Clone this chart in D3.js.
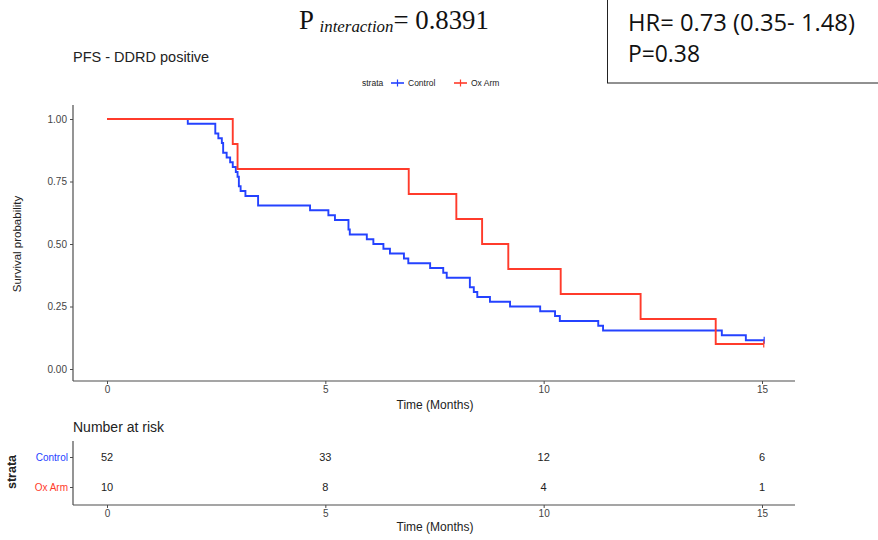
<!DOCTYPE html>
<html>
<head>
<meta charset="utf-8">
<script src="https://cdn.jsdelivr.net/npm/d3@7"></script>
<style>
  html, body { margin: 0; padding: 0; background: #fff; }
  svg { display: block; }
</style>
</head>
<body>
<svg id="chart" width="878" height="540"></svg>
<script>
// Kaplan-Meier steps: time of each drop (months) and survival after it
const controlTimes = [1.85, 2.48, 2.55, 2.63, 2.66, 2.74, 2.82, 2.88, 2.95, 2.99, 3.02, 3.06, 3.17, 3.46,
  4.65, 5.07, 5.22, 5.53, 5.56, 5.95, 6.10, 6.33, 6.48, 6.80, 6.90, 7.40, 7.70, 7.78,
  8.31, 8.40, 8.48, 8.77, 9.23, 9.92, 10.26, 10.37, 11.25, 11.36, 14.08, 14.63];
const controlSurv = [0.981, 0.942, 0.923, 0.904, 0.865, 0.846, 0.827, 0.808, 0.788, 0.769, 0.731, 0.712, 0.692, 0.654,
  0.635, 0.615, 0.596, 0.558, 0.538, 0.519, 0.500, 0.481, 0.462, 0.442, 0.423, 0.404, 0.385, 0.365,
  0.327, 0.308, 0.288, 0.269, 0.250, 0.231, 0.212, 0.192, 0.173, 0.154, 0.135, 0.115];
const controlEnd = 15.05;

const oxTimes = [2.88, 2.99, 6.91, 8.00, 8.59, 9.19, 10.39, 12.22, 13.94];
const oxSurv = [0.9, 0.8, 0.7, 0.6, 0.5, 0.4, 0.3, 0.2, 0.1];
const oxEnd = 15.04;

const strata = ["Control", "Ox Arm"];
const riskTimes = [0, 5, 10, 15];
const riskControl = [52, 33, 12, 6];
const riskOx = [10, 8, 4, 1];
const xTicks = [0, 5, 10, 15];
const yTicks = [0, 0.25, 0.5, 0.75, 1];

const colors = { "Control": "#2442ff", "Ox Arm": "#ff3b2b" };
const axisColor = "#4d4d4d";
const sans = "'Liberation Sans', Arial, sans-serif";

const svg = d3.select("#chart");

// Shared time scale for the curve panel and the risk table
const x = d3.scaleLinear().domain([0, 15]).range([107, 762]);
const y = d3.scaleLinear().domain([0, 1]).range([369, 119]);
const panel = { left: 73, right: 795, top: 105, bottom: 381 };

// Squeeze/stretch a text node horizontally so it spans a given width from its left edge
function fitWidth(sel, left, width) {
  const bb = sel.node().getBBox();
  const k = width / bb.width;
  sel.attr("transform", `translate(${left},0) scale(${k},1) translate(${-bb.x},0)`);
}

// ---- Header annotations ----
const pText = svg.append("text")
  .attr("x", 0).attr("y", 29)
  .attr("font-family", "'Liberation Serif', 'Times New Roman', serif")
  .attr("font-size", 27).attr("fill", "#111");
pText.append("tspan").text("P ");
pText.append("tspan").attr("font-style", "italic").attr("font-size", 17).attr("dy", 3).text("interaction");
pText.append("tspan").attr("dy", -3).text("= 0.8391");
fitWidth(pText, 299, 190);

svg.append("rect")
  .attr("x", 607.5).attr("y", -5).attr("width", 300).attr("height", 88)
  .attr("fill", "none").attr("stroke", "#222").attr("stroke-width", 1);
const hr = svg.append("text").attr("x", 0).attr("y", 31)
  .attr("font-family", "'Open Sans', sans-serif").attr("font-size", 23)
  .attr("fill", "#111").text("HR= 0.73 (0.35- 1.48)");
fitWidth(hr, 628, 227);
const pv = svg.append("text").attr("x", 0).attr("y", 62)
  .attr("font-family", "'Open Sans', sans-serif").attr("font-size", 23)
  .attr("fill", "#111").text("P=0.38");
fitWidth(pv, 628, 72);

svg.append("text").attr("x", 73).attr("y", 62)
  .attr("font-family", sans).attr("font-size", 14.5).attr("fill", "#222")
  .text("PFS - DDRD positive");

// ---- Legend ----
const legend = svg.append("g").attr("font-family", sans).attr("font-size", 8.5).attr("fill", "#222");
legend.append("text").attr("x", 362).attr("y", 86).text("strata");
const legendItems = [{ name: "Control", x: 391 }, { name: "Ox Arm", x: 454 }];
legendItems.forEach(d => {
  const g = legend.append("g").attr("transform", `translate(${d.x},83)`);
  g.append("line").attr("x1", 0).attr("x2", 13).attr("stroke", colors[d.name]).attr("stroke-width", 1.6);
  g.append("line").attr("x1", 6.5).attr("x2", 6.5).attr("y1", -3.5).attr("y2", 3.5).attr("stroke", colors[d.name]).attr("stroke-width", 1.2);
  g.append("text").attr("x", 17).attr("y", 3).text(d.name);
});

// ---- Survival panel axes ----
const yAxis = svg.append("g").attr("transform", `translate(${panel.left},0)`)
  .call(d3.axisLeft(y).tickValues(yTicks).tickFormat(d3.format(".2f")).tickSize(3).tickPadding(3));
yAxis.select(".domain").remove();
svg.append("line").attr("x1", panel.left).attr("x2", panel.left)
  .attr("y1", panel.top).attr("y2", panel.bottom).attr("stroke", axisColor).attr("stroke-width", 1.2);

const xAxis = svg.append("g").attr("transform", `translate(0,${panel.bottom})`)
  .call(d3.axisBottom(x).tickValues(xTicks).tickSize(3).tickPadding(2));
xAxis.select(".domain").remove();
svg.append("line").attr("x1", panel.left).attr("x2", panel.right)
  .attr("y1", panel.bottom).attr("y2", panel.bottom).attr("stroke", axisColor).attr("stroke-width", 1.2);

[yAxis, xAxis].forEach(a => {
  a.selectAll("text").attr("font-family", sans).attr("font-size", 10).attr("fill", "#444");
  a.selectAll(".tick line").attr("stroke", axisColor);
});

svg.append("text")
  .attr("transform", `translate(21,${y(0.5)}) rotate(-90)`)
  .attr("text-anchor", "middle").attr("font-family", sans).attr("font-size", 11.5).attr("fill", "#222")
  .text("Survival probability");
svg.append("text").attr("x", 435).attr("y", 409).attr("text-anchor", "middle")
  .attr("font-family", sans).attr("font-size", 12).attr("fill", "#222").text("Time (Months)");

// ---- Curves (Control underneath, Ox Arm on top) ----
function stepPoints(times, surv, end) {
  const pts = [[0, 1]];
  times.forEach((t, i) => pts.push([t, surv[i]]));
  pts.push([end, surv[surv.length - 1]]);
  return pts;
}
const line = d3.line().x(d => x(d[0])).y(d => y(d[1])).curve(d3.curveStepAfter);

const series = [
  { name: "Control", pts: stepPoints(controlTimes, controlSurv, controlEnd) },
  { name: "Ox Arm", pts: stepPoints(oxTimes, oxSurv, oxEnd) }
];
series.forEach(s => {
  svg.append("path").datum(s.pts).attr("d", line)
    .attr("fill", "none").attr("stroke", colors[s.name]).attr("stroke-width", 1.9)
    .attr("stroke-linejoin", "miter");
  const last = s.pts[s.pts.length - 1];
  svg.append("line").attr("x1", x(last[0])).attr("x2", x(last[0]))
    .attr("y1", y(last[1]) - 3.5).attr("y2", y(last[1]) + 3.5)
    .attr("stroke", colors[s.name]).attr("stroke-width", 1.2);
});

// ---- Number at risk table ----
svg.append("text").attr("x", 73).attr("y", 432)
  .attr("font-family", sans).attr("font-size", 14).attr("fill", "#222").text("Number at risk");

const table = { top: 441, bottom: 505 };
const rowY = d3.scalePoint().domain(strata).range([457, 487]);

svg.append("line").attr("x1", panel.left).attr("x2", panel.left)
  .attr("y1", table.top).attr("y2", table.bottom).attr("stroke", axisColor).attr("stroke-width", 1.2);
svg.append("line").attr("x1", panel.left).attr("x2", panel.right)
  .attr("y1", table.bottom).attr("y2", table.bottom).attr("stroke", axisColor).attr("stroke-width", 1.2);

const tAxisY = svg.append("g").attr("transform", `translate(${panel.left},0)`)
  .call(d3.axisLeft(rowY).tickSize(3).tickPadding(2));
tAxisY.select(".domain").remove();
tAxisY.selectAll(".tick line").attr("stroke", axisColor);
tAxisY.selectAll("text").attr("font-family", sans).attr("font-size", 10)
  .attr("fill", d => colors[d]);

const tAxisX = svg.append("g").attr("transform", `translate(0,${table.bottom})`)
  .call(d3.axisBottom(x).tickValues(xTicks).tickSize(3).tickPadding(2));
tAxisX.select(".domain").remove();
tAxisX.selectAll(".tick line").attr("stroke", axisColor);
tAxisX.selectAll("text").attr("font-family", sans).attr("font-size", 10).attr("fill", "#444");

svg.append("text")
  .attr("transform", `translate(16,${(rowY("Control") + rowY("Ox Arm")) / 2}) rotate(-90)`)
  .attr("text-anchor", "middle").attr("font-family", sans).attr("font-size", 12.5)
  .attr("font-weight", "bold").attr("fill", "#222").text("strata");
svg.append("text").attr("x", 435).attr("y", 531).attr("text-anchor", "middle")
  .attr("font-family", sans).attr("font-size", 12).attr("fill", "#222").text("Time (Months)");

const riskRows = [{ name: "Control", vals: riskControl }, { name: "Ox Arm", vals: riskOx }];
riskRows.forEach(r => {
  svg.append("g").selectAll("text").data(r.vals).join("text")
    .attr("x", (d, i) => x(riskTimes[i]))
    .attr("y", rowY(r.name) + 4)
    .attr("text-anchor", "middle")
    .attr("font-family", sans).attr("font-size", 11).attr("fill", "#222")
    .text(d => d);
});
</script>
</body>
</html>
